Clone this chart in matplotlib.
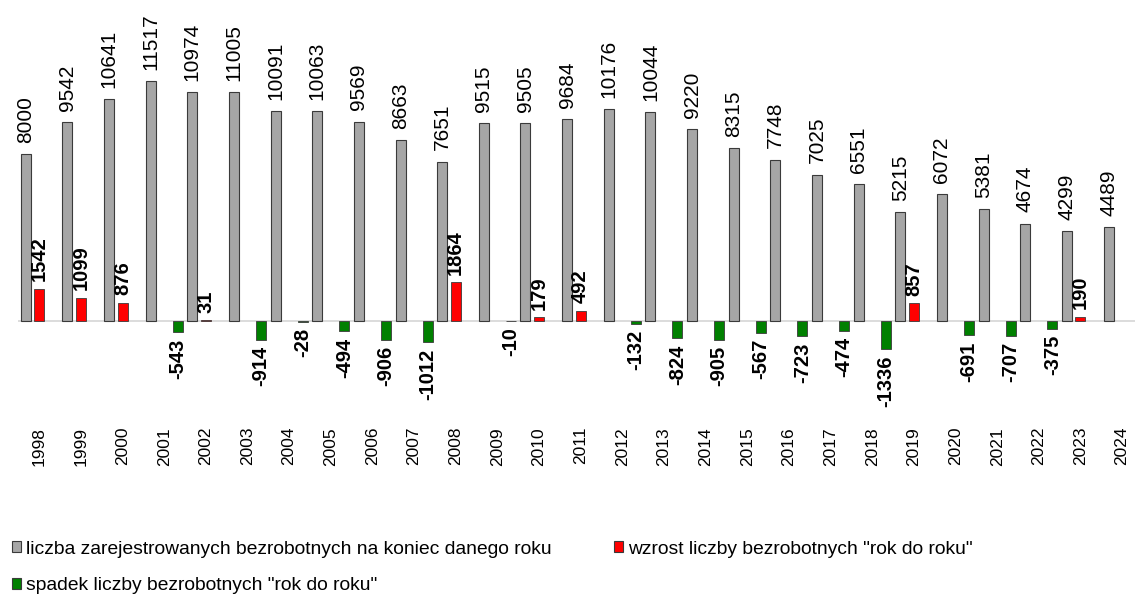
import numpy as np
import matplotlib
matplotlib.use("Agg")
import matplotlib.pyplot as plt
from matplotlib.patches import Patch

plt.rcParams['font.family'] = ['Liberation Sans', 'DejaVu Sans']

years = [str(y) for y in range(1998, 2025)]
unemployed = [8000, 9542, 10641, 11517, 10974, 11005, 10091, 10063, 9569, 8663,
              7651, 9515, 9505, 9684, 10176, 10044, 9220, 8315, 7748, 7025,
              6551, 5215, 6072, 5381, 4674, 4299, 4489]
# zmiana "rok do roku" (ostatni rok bez zmiany)
change = [1542, 1099, 876, -543, 31, -914, -28, -494, -906, -1012,
          1864, -10, 179, 492, -132, -824, -905, -567, -723, -474,
          -1336, 857, -691, -707, -375, 190, None]

labels = ['liczba zarejestrowanych bezrobotnych na koniec danego roku',
          'wzrost liczby bezrobotnych "rok do roku"',
          'spadek liczby bezrobotnych "rok do roku"']
c_gray, c_red, c_green = '#a6a6a6', '#ff0000', '#008000'

increase = [c if c is not None and c > 0 else np.nan for c in change]
decrease = [c if c is not None and c < 0 else np.nan for c in change]

W, H = 1135, 594
fig = plt.figure(figsize=(W / 100, H / 100), dpi=100)

k = 240 / 11517          # px per unit
zero_px, bottom_px = 321, 420
left_px = 18.4
ax = fig.add_axes([left_px / W, (H - bottom_px) / H, (W - left_px) / W, bottom_px / H])

x = np.arange(len(years))
bw = 0.24
off = 0.325
b1 = ax.bar(x - off, unemployed, bw, color=c_gray, edgecolor='#3a3a3a', lw=0.8, zorder=3)
b2 = ax.bar(x, increase, bw, color=c_red, edgecolor='#3a3a3a', lw=0.6, zorder=3)
b3 = ax.bar(x + off, decrease, bw, color=c_green, edgecolor='#3a3a3a', lw=0.6, zorder=3)

ax.axhline(0, color='#d9d9d9', lw=1.3, zorder=2)

for xi, v in zip(x, unemployed):
    ax.annotate(str(v), (xi - off, v), xytext=(0, 8), textcoords='offset points',
                rotation=90, ha='center', va='bottom', fontsize=15)
for xi, v in zip(x, increase):
    if not np.isnan(v):
        ax.annotate(str(int(v)), (xi, v), xytext=(0, 5.5), textcoords='offset points',
                    rotation=90, ha='center', va='bottom', fontsize=14.5, fontweight='bold')
for xi, v in zip(x, decrease):
    if not np.isnan(v):
        ax.annotate(str(int(v)), (xi + off, v), xytext=(0, -4.5), textcoords='offset points',
                    rotation=90, ha='center', va='top', fontsize=14.5, fontweight='bold')

ax.set_xlim(-0.5, (W - 39.2) / 41.65)
ax.set_ylim(-(bottom_px - zero_px) / k, zero_px / k)
ax.set_xticks(x)
ax.set_xticklabels(years, rotation=90, fontsize=12.5)
ax.tick_params(axis='x', length=0, pad=5)
ax.set_yticks([])
for s in ax.spines.values():
    s.set_visible(False)

handles = [Patch(facecolor=c_gray, edgecolor='#3a3a3a', lw=0.8),
           Patch(facecolor=c_green, edgecolor='#3a3a3a', lw=0.8),
           Patch(facecolor=c_red, edgecolor='#3a3a3a', lw=0.8)]
fig.legend(handles, [labels[0], labels[2], labels[1]], ncol=2, loc='upper left',
           bbox_to_anchor=(4 / W, 1 - 533 / H), frameon=False, fontsize=13.9,
           handlelength=0.5, handleheight=0.5, handletextpad=0.25,
           columnspacing=3.2, labelspacing=1.0, borderaxespad=0)

fig.savefig('out.png', dpi=100)
